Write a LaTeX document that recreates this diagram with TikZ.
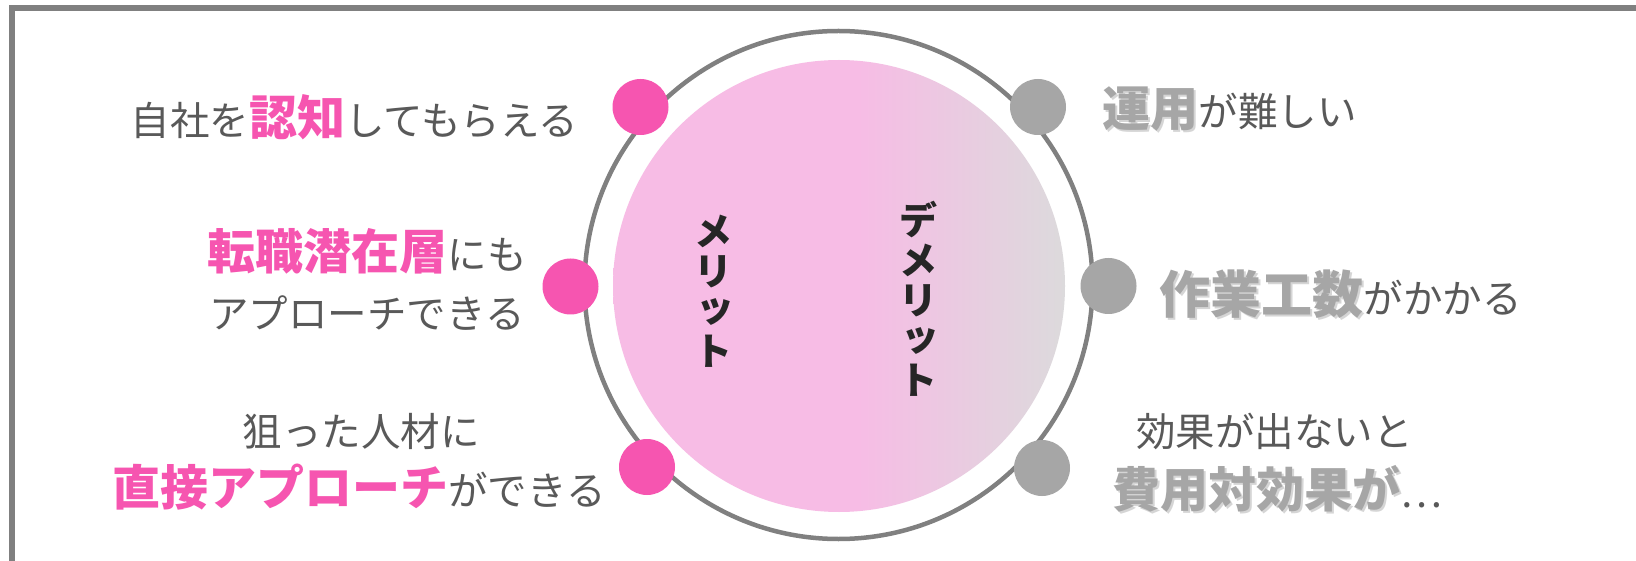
\documentclass[tikz,border=0pt]{standalone}
\usepackage{fontspec}
\setmainfont{Noto Sans CJK JP}
\definecolor{pinkT}{HTML}{F655B0}
\definecolor{pinkF}{HTML}{F7BCE5}
\definecolor{grayF}{HTML}{DCDADC}
\definecolor{grayD}{HTML}{A6A6A6}
\definecolor{grayS}{HTML}{C4C4C4}
\definecolor{lineGray}{HTML}{808080}
\definecolor{textGray}{HTML}{595959}
\definecolor{darkT}{HTML}{262626}
\pgfdeclarehorizontalshading{innershade}{100bp}{color(0bp)=(pinkF); color(52bp)=(pinkF); color(75bp)=(grayF); color(100bp)=(grayF)}
\newcommand{\pinkbold}[1]{{\bfseries\fontsize{48}{48}\selectfont\color{pinkT}#1}}
\newcommand{\graybold}[2][48]{{\bfseries\fontsize{#1}{48}\selectfont\color{grayD}#2}}
\newcommand{\grayshadow}[2][48]{{\bfseries\fontsize{#1}{48}\selectfont\color{grayS}#2}}
\begin{document}
\begin{tikzpicture}[x=1pt,y=-1pt,
  frameline/.style={draw=lineGray, line width=5.5pt},
  ring/.style={circle, draw=lineGray, line width=4.5pt, minimum size=508pt, inner sep=0pt},
  pinkdot/.style={circle, fill=pinkT, minimum size=56pt, inner sep=0pt},
  graydot/.style={circle, fill=grayD, minimum size=56pt, inner sep=0pt},
  label/.style={anchor=base, inner sep=0pt, text=textGray, font=\fontsize{39.5}{40}\selectfont},
  shadowlabel/.style={anchor=base, inner sep=0pt, text=grayS, opacity=0.7, font=\fontsize{39.5}{40}\selectfont},
  vtext/.style={align=center, inner sep=0pt, text=darkT, font=\bfseries\fontsize{38}{40}\selectfont}]
\useasboundingbox (0,0) rectangle (1636,561);
\clip (0,0) rectangle (1636,561);
\fill[white] (0,0) rectangle (1636,561);
% frame
\draw[frameline] (12,640) -- (12,8) -- (1720,8);
% rings
\node[ring] (outer) at (838.5,285) {};
\shade[shading=innershade] (839,286) circle[radius=226];
\coordinate (core) at (839,286);
% vertical labels
\node[vtext] (merit) at (713,291) {メ\\リ\\\hspace*{0.12em}\raisebox{0.1em}{ッ}\\ト};
\node[vtext] (demerit) at (918,299) {デ\\メ\\リ\\\hspace*{0.12em}\raisebox{0.1em}{ッ}\\ト};
% dots
\node[pinkdot] (d1) at (640.5,107) {};
\node[pinkdot] (d2) at (570.5,286.5) {};
\node[pinkdot] (d3) at (647,467) {};
\node[graydot] (d4) at (1038,107) {};
\node[graydot] (d5) at (1108.5,286) {};
\node[graydot] (d6) at (1042,468) {};
% left texts
\node[label] (t1) at (354.5,136) {自社を\pinkbold{認知}してもらえる};
\node[label] (t2a) at (367,270) {\pinkbold{転職潜在層}にも};
\node[label] (t2b) at (367,329) {アプローチできる};
\node[label] (t3a) at (361,446) {狙った人材に};
\node[label] (t3b) at (359,505) {\pinkbold{直接アプローチ}ができる};
% right texts (shadows first)
\node[shadowlabel] (s4) at (1231.5,129) {\grayshadow{運用}\phantom{が難しい}};
\node[shadowlabel] (s5) at (1342.5,316) {\grayshadow[51]{作業工数}\phantom{がかかる}};
\node[shadowlabel] (s6b) at (1279,509) {\grayshadow{費用対効果が}\phantom{…}};
\node[label] (t4) at (1229.5,127) {\graybold{運用}が難しい};
\node[label] (t5) at (1340.5,314) {\graybold[51]{作業工数}がかかる};
\node[label] (t6a) at (1274.5,446) {効果が出ないと};
\node[label] (t6b) at (1277,507) {\graybold{費用対効果が}…};
\end{tikzpicture}
\end{document}
